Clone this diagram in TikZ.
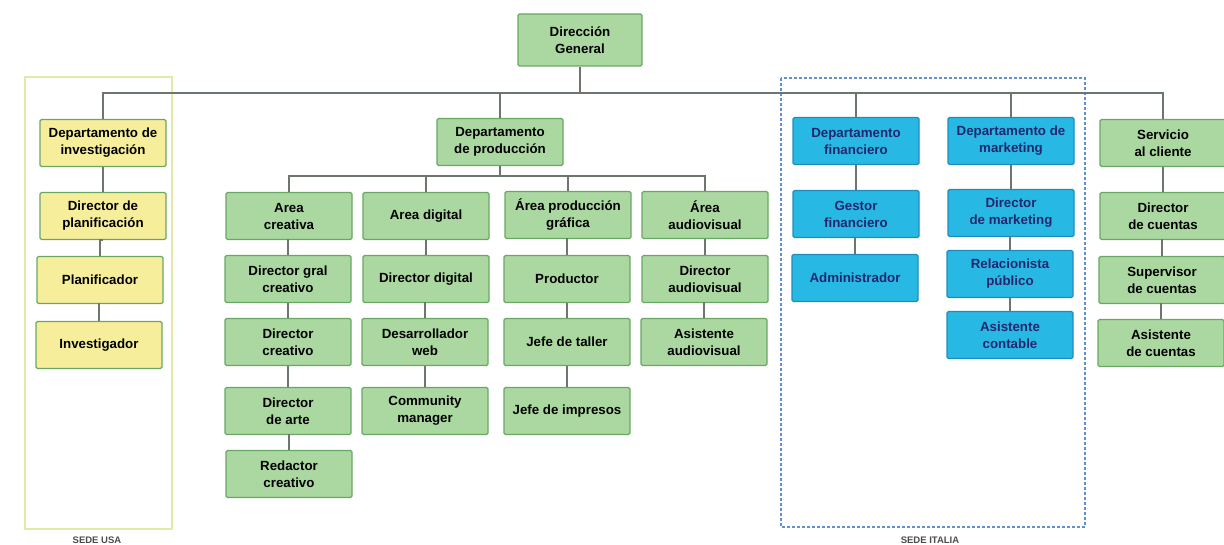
\documentclass[tikz,border=0pt]{standalone}
\usepackage{fontspec}
\setmainfont{Liberation Sans}
\usepackage{tikz}
\usetikzlibrary{positioning,calc}

\definecolor{boxgreen}{RGB}{170,216,160}
\definecolor{edgegreen}{RGB}{104,168,100}
\definecolor{boxyellow}{RGB}{246,238,155}
\definecolor{boxblue}{RGB}{40,184,228}
\definecolor{edgeblue}{RGB}{30,140,190}
\definecolor{textnavy}{RGB}{36,38,110}
\definecolor{linegray}{RGB}{108,118,108}
\definecolor{usaframe}{RGB}{226,234,170}
\definecolor{italyframe}{RGB}{95,145,210}

\tikzset{
    unit/.style={draw=edgegreen, line width=1.2pt, rounded corners=1.5pt, fill=boxgreen,
        minimum width=126pt, minimum height=47pt, inner sep=0pt, align=center,
        font=\fontsize{13.3}{17}\selectfont\bfseries},
    usaunit/.style={unit, fill=boxyellow},
    italyunit/.style={unit, fill=boxblue, draw=edgeblue, text=textnavy},
    link/.style={draw=linegray, line width=1.4pt},
    sede/.style={font=\fontsize{9.5}{10}\selectfont\bfseries, text=black!70}
}

\begin{document}
\begin{tikzpicture}[x=1pt, y=-1pt]
    \useasboundingbox (0,0) rectangle (1224,545);

    % Sede frames
    \draw[usaframe, line width=2pt] (25,77) rectangle (172,529);
    \draw[italyframe, dash pattern=on 3pt off 2pt, line width=1.3pt] (781,78) rectangle (1085,527);
    \node[sede] (usa) at (97,540) {SEDE USA};
    \node[sede] (italia) at (930,540) {SEDE ITALIA};

    % Top
    \node[unit, minimum width=124pt, minimum height=52pt] (dg) at (580,40) {Dirección\\General};

    % Sede USA
    \node[usaunit] (inv) at (103,143) {Departamento de\\investigación};
    \node[usaunit] (plan) at (103,216) {Director de\\planificación};
    \node[usaunit] (planif) at (100,280) {Planificador};
    \node[usaunit] (invest) at (99,345) {Investigador};

    % Produccion
    \node[unit] (prod) at (500,142) {Departamento\\de producción};
    \node[unit] (creat) at (289,216) {Area\\creativa};
    \node[unit] (digi) at (426,216) {Area digital};
    \node[unit] (graf) at (568,215) {Área producción\\gráfica};
    \node[unit] (audio) at (705,215) {Área\\audiovisual};

    \node[unit] (dgc) at (288,279) {Director gral\\creativo};
    \node[unit] (dcrea) at (288,342) {Director\\creativo};
    \node[unit] (darte) at (288,411) {Director\\de arte};
    \node[unit] (redac) at (289,474) {Redactor\\creativo};

    \node[unit] (ddig) at (426,279) {Director digital};
    \node[unit] (desweb) at (425,342) {Desarrollador\\web};
    \node[unit] (comm) at (425,411) {Community\\manager};

    \node[unit] (productor) at (567,279) {Productor};
    \node[unit] (taller) at (567,342) {Jefe de taller};
    \node[unit] (impresos) at (567,411) {Jefe de impresos};

    \node[unit] (daudio) at (705,279) {Director\\audiovisual};
    \node[unit] (asaudio) at (704,342) {Asistente\\audiovisual};

    % Sede Italia
    \node[italyunit] (fin) at (856,141) {Departamento\\financiero};
    \node[italyunit] (gestor) at (856,214) {Gestor\\financiero};
    \node[italyunit] (admin) at (855,278) {Administrador};

    \node[italyunit] (mkt) at (1011,141) {Departamento de\\marketing};
    \node[italyunit] (dmkt) at (1011,213) {Director\\de marketing};
    \node[italyunit] (relpub) at (1010,274) {Relacionista\\público};
    \node[italyunit] (ascont) at (1010,335) {Asistente\\contable};

    % Servicio al cliente
    \node[unit] (serv) at (1163,143) {Servicio\\al cliente};
    \node[unit] (dcta) at (1163,216) {Director\\de cuentas};
    \node[unit] (supcta) at (1162,280) {Supervisor\\de cuentas};
    \node[unit] (ascta) at (1161,343) {Asistente\\de cuentas};

    % Buses
    \coordinate (bus) at (0,93);
    \coordinate (prodbus) at (0,176);
    \draw[link] (dg.south) -- (dg.south |- bus);
    \draw[link] (inv.north) -- (inv.north |- bus) -- (serv.north |- bus) -- (serv.north);
    \foreach \n in {prod, fin, mkt}
        \draw[link] (\n.north) -- (\n.north |- bus);
    \draw[link] (prod.south) -- (prod.south |- prodbus);
    \draw[link] (creat.north) -- (creat.north |- prodbus) -- (audio.north |- prodbus) -- (audio.north);
    \foreach \n in {digi, graf}
        \draw[link] (\n.north) -- (\n.north |- prodbus);

    % Columns
    \foreach \a/\b in {inv/plan, plan/planif, planif/invest,
                       creat/dgc, dgc/dcrea, dcrea/darte, darte/redac,
                       digi/ddig, ddig/desweb, desweb/comm,
                       graf/productor, productor/taller, taller/impresos,
                       audio/daudio, daudio/asaudio,
                       fin/gestor, gestor/admin,
                       mkt/dmkt, dmkt/relpub, relpub/ascont,
                       serv/dcta, dcta/supcta, supcta/ascta}
        \draw[link] (\a.south) -- (\a.south -| \b.north) -- (\b.north);
\end{tikzpicture}
\end{document}
